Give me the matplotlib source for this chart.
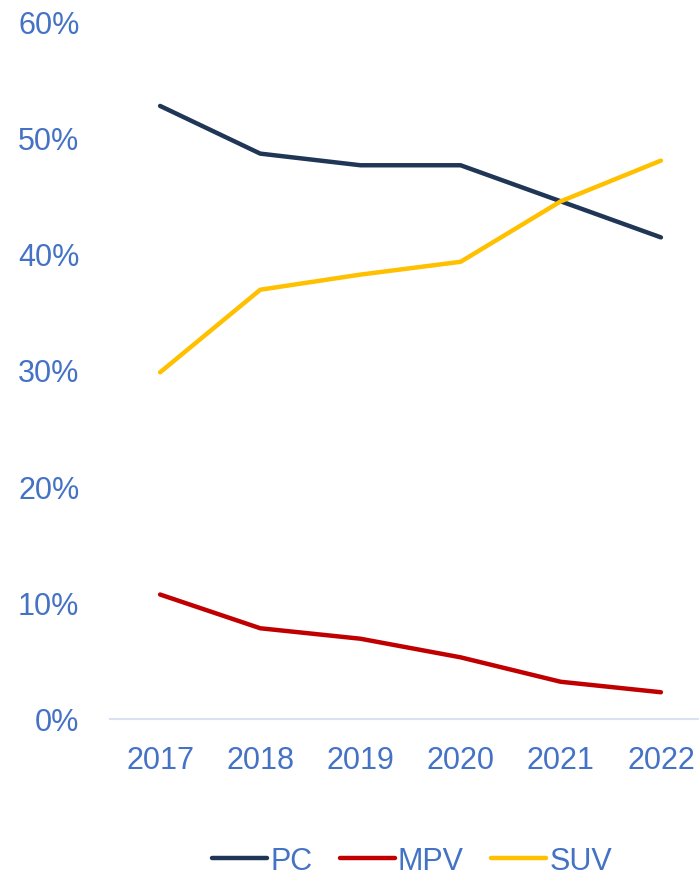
import matplotlib
matplotlib.use("Agg")
import matplotlib.pyplot as plt
from matplotlib.ticker import PercentFormatter

# data (share by body type)
years = ["2017", "2018", "2019", "2020", "2021", "2022"]
pc = [52.7, 48.6, 47.6, 47.6, 44.5, 41.4]
mpv = [10.7, 7.8, 6.9, 5.3, 3.2, 2.3]
suv = [29.8, 36.9, 38.2, 39.3, 44.5, 48.0]

plt.rcParams["font.family"] = ["Liberation Sans", "DejaVu Sans"]
TXT = "#4472C4"

W, H = 699, 879
fig = plt.figure(figsize=(W / 100, H / 100), dpi=100)
ax = fig.add_axes([110 / W, 159 / H, 601 / W, 698 / H])

x = range(len(years))
ax.plot(x, pc, color="#1F3656", lw=3.2, solid_capstyle="round", label="PC")
ax.plot(x, mpv, color="#C00000", lw=3.2, solid_capstyle="round", label="MPV")
ax.plot(x, suv, color="#FFC000", lw=3.2, solid_capstyle="round", label="SUV")

ax.set_xlim(-0.5, len(years) - 0.5)
ax.set_ylim(0, 60)
ax.set_yticks(range(0, 61, 10))
ax.yaxis.set_major_formatter(PercentFormatter(decimals=0))
ax.set_xticks(list(x))
ax.set_xticklabels(years)

for s in ["top", "right", "left"]:
    ax.spines[s].set_visible(False)
ax.spines["bottom"].set_color("#D9E1F2")
ax.spines["bottom"].set_linewidth(1.5)
ax.spines["bottom"].set_clip_on(False)

ax.tick_params(axis="both", length=0, labelsize=22, labelcolor=TXT)
ax.tick_params(axis="y", pad=22)
ax.tick_params(axis="x", pad=19)

fig.legend(loc="center", bbox_to_anchor=(412 / W, 1 - 862 / H), ncol=3,
           frameon=False, fontsize=22, labelcolor=TXT, handlelength=1.8,
           handletextpad=0.1, columnspacing=0.9)

fig.savefig("out.png", dpi=100)
